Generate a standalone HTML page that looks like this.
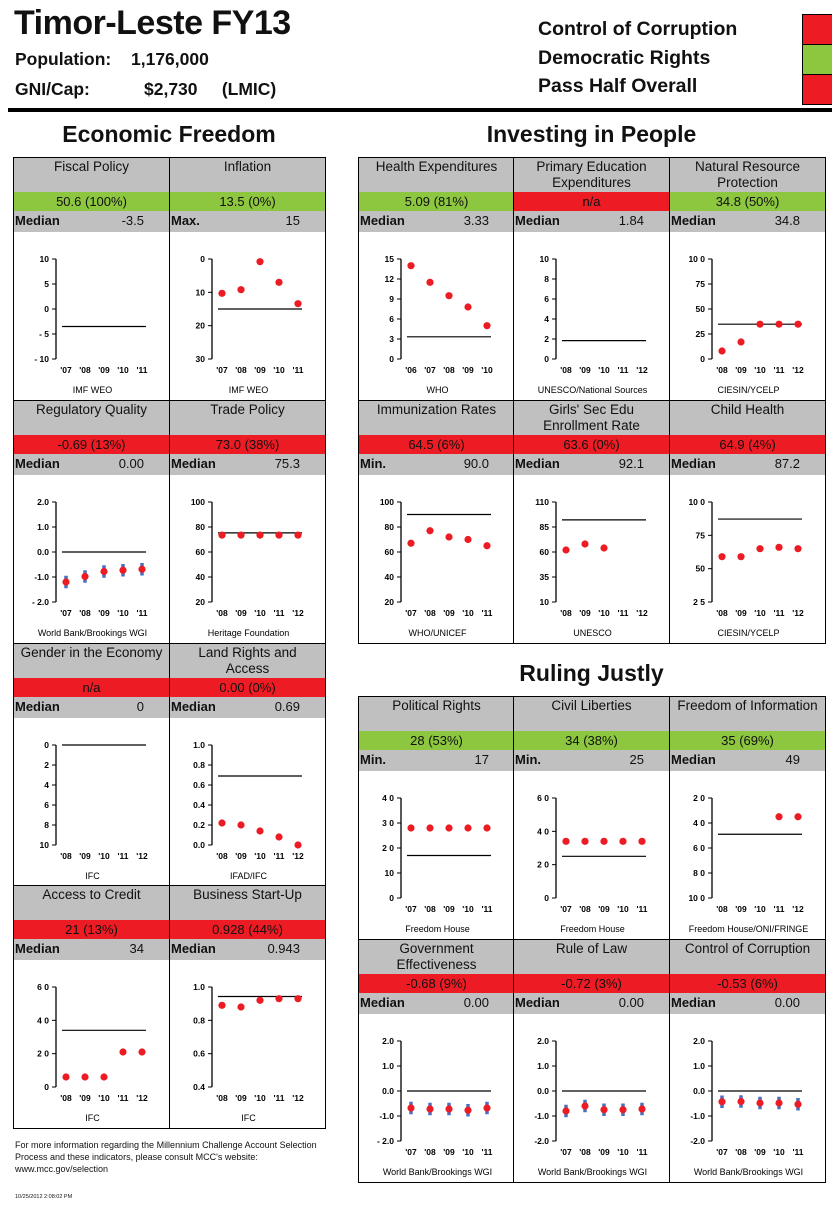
<!DOCTYPE html>
<html><head><meta charset="utf-8">
<style>
*{box-sizing:border-box;margin:0;padding:0}
body{width:832px;height:1209px;background:#fff;position:relative;overflow:hidden;font-family:"Liberation Sans",Arial,sans-serif;color:#111}
.a{position:absolute}
.panel{position:absolute;border:1.5px solid #000;background:#fff;overflow:hidden}
.hd{position:absolute;left:0;right:0;top:0;height:34px;background:#c0c0c0;text-align:center;font-size:13.5px;line-height:16px;padding:1px 10px 0 10px}
.sc{position:absolute;left:0;right:0;top:34px;height:19px;text-align:center;font-size:13px;line-height:19px}
.md{position:absolute;left:0;right:0;top:53px;height:21px;background:#c0c0c0;font-size:13px;font-weight:bold;line-height:20px}
.md span{position:absolute;right:25px;top:0;font-weight:normal}
.md b{position:absolute;left:1px;top:0}
.sec{font-size:23px;font-weight:bold;text-align:center}
svg text{font-family:"Liberation Sans",Arial,sans-serif}
</style></head><body>
<div class="a" style="left:14px;top:4px;font-size:34px;font-weight:bold;letter-spacing:-0.5px">Timor-Leste FY13</div>
<div class="a" style="left:15px;top:49px;font-size:17.5px;font-weight:bold">Population:</div>
<div class="a" style="left:131px;top:49px;font-size:17.5px;font-weight:bold">1,176,000</div>
<div class="a" style="left:15px;top:79px;font-size:17.5px;font-weight:bold">GNI/Cap:</div>
<div class="a" style="left:144px;top:79px;font-size:17.5px;font-weight:bold">$2,730&nbsp;&nbsp;&nbsp;&nbsp;&nbsp;(LMIC)</div>
<div class="a" style="left:538px;top:18px;font-size:19.5px;font-weight:bold">Control of Corruption</div>
<div class="a" style="left:538px;top:47px;font-size:19.5px;font-weight:bold">Democratic Rights</div>
<div class="a" style="left:538px;top:75px;font-size:19.5px;font-weight:bold">Pass Half Overall</div>
<div class="a" style="left:802px;top:14px;width:32px;height:31px;background:#ed1c24;border:1.5px solid #000"></div>
<div class="a" style="left:802px;top:44px;width:32px;height:31px;background:#8dc63f;border:1.5px solid #000"></div>
<div class="a" style="left:802px;top:74px;width:32px;height:31px;background:#ed1c24;border:1.5px solid #000"></div>
<div class="a" style="left:8px;top:108px;width:824px;height:4px;background:#000"></div>
<div class="a sec" style="left:13px;width:312px;top:121px">Economic Freedom</div>
<div class="a sec" style="left:358px;width:467px;top:121px">Investing in People</div>
<div class="a sec" style="left:358px;width:467px;top:660px">Ruling Justly</div>
<div class="a" style="left:15px;top:1139px;width:320px;font-size:9px;line-height:12px">For more information regarding the Millennium Challenge Account Selection Process and these indicators, please consult MCC's website: www.mcc.gov/selection</div>
<div class="a" style="left:15px;top:1194px;font-size:5.5px">10/25/2012 2:08:02 PM</div>
<div id="root"></div>
<script>
const Y0711=["'07","'08","'09","'10","'11"];
const Y0812=["'08","'09","'10","'11","'12"];
const Y0610=["'06","'07","'08","'09","'10"];
const fiscalValues=[null,null,null,null,null];
const inflationValues=[10.3,9.2,0.8,7.0,13.4];
const regQualityValues=[-1.2,-0.98,-0.78,-0.73,-0.69];
const tradeValues=[73.5,73.5,73.5,73.5,73.5];
const genderValues=[null,null,null,null,null];
const landValues=[0.22,0.20,0.14,0.08,0.0];
const creditValues=[6,6,6,21,21];
const businessValues=[0.89,0.88,0.92,0.93,0.93];
const healthValues=[14.0,11.5,9.5,7.8,5.0];
const primaryEduValues=[null,null,null,null,null];
const naturalValues=[8,17,34.8,34.8,34.8];
const immunValues=[67,77,72,70,65];
const girlsValues=[62,68,64,null,null];
const childValues=[59,59,65,66,65];
const polRightsValues=[28,28,28,28,28];
const civilValues=[34,34,34,34,34];
const foiValues=[null,null,null,35,35];
const govEffValues=[-0.68,-0.72,-0.72,-0.77,-0.68];
const ruleLawValues=[-0.8,-0.6,-0.75,-0.75,-0.72];
const corruptionValues=[-0.43,-0.42,-0.48,-0.48,-0.53];
const G="#8dc63f",R="#ed1c24";
const panels=[
 {n:"fiscal-policy",t:"Fiscal Policy",s:"50.6 (100%)",c:G,ml:"Median",mv:"-3.5",med:-3.5,ticks:[10,5,0,-5,-10],tl:["10","5","0","- 5","- 10"],yrs:Y0711,v:fiscalValues,src:"IMF WEO",x:13,y:157},
 {n:"inflation",t:"Inflation",s:"13.5 (0%)",c:G,ml:"Max.",mv:"15",med:15,ticks:[0,10,20,30],tl:["0","10","20","30"],inv:1,yrs:Y0711,v:inflationValues,src:"IMF WEO",x:169,y:157},
 {n:"regulatory-quality",t:"Regulatory Quality",s:"-0.69 (13%)",c:R,ml:"Median",mv:"0.00",med:0,ticks:[2,1,0,-1,-2],tl:["2.0","1.0","0.0","-1.0","- 2.0"],err:1,yrs:Y0711,v:regQualityValues,src:"World Bank/Brookings WGI",x:13,y:400},
 {n:"trade-policy",t:"Trade Policy",s:"73.0 (38%)",c:R,ml:"Median",mv:"75.3",med:75.3,ticks:[100,80,60,40,20],tl:["100","80","60","40","20"],yrs:Y0812,v:tradeValues,src:"Heritage Foundation",x:169,y:400},
 {n:"gender-economy",t:"Gender in the Economy",s:"n/a",c:R,ml:"Median",mv:"0",med:0,ticks:[0,2,4,6,8,10],tl:["0","2","4","6","8","10"],inv:1,yrs:Y0812,v:genderValues,src:"IFC",x:13,y:643,pad:2},
 {n:"land-rights",t:"Land Rights and Access",s:"0.00 (0%)",c:R,ml:"Median",mv:"0.69",med:0.69,ticks:[1,0.8,0.6,0.4,0.2,0],tl:["1.0","0.8","0.6","0.4","0.2","0.0"],yrs:Y0812,v:landValues,src:"IFAD/IFC",x:169,y:643,pad:18},
 {n:"access-credit",t:"Access to Credit",s:"21 (13%)",c:R,ml:"Median",mv:"34",med:34,ticks:[60,40,20,0],tl:["6 0","4 0","2 0","0"],yrs:Y0812,v:creditValues,src:"IFC",x:13,y:885},
 {n:"business-startup",t:"Business Start-Up",s:"0.928 (44%)",c:R,ml:"Median",mv:"0.943",med:0.943,ticks:[1,0.8,0.6,0.4],tl:["1.0","0.8","0.6","0.4"],yrs:Y0812,v:businessValues,src:"IFC",x:169,y:885},
 {n:"health-expenditures",t:"Health Expenditures",s:"5.09 (81%)",c:G,ml:"Median",mv:"3.33",med:3.33,ticks:[15,12,9,6,3,0],tl:["15","12","9","6","3","0"],yrs:Y0610,v:healthValues,src:"WHO",x:358,y:157,pad:2},
 {n:"primary-education",t:"Primary Education Expenditures",s:"n/a",c:R,ml:"Median",mv:"1.84",med:1.84,ticks:[10,8,6,4,2,0],tl:["10","8","6","4","2","0"],yrs:Y0812,v:primaryEduValues,src:"UNESCO/National Sources",x:513,y:157},
 {n:"natural-resource",t:"Natural Resource Protection",s:"34.8 (50%)",c:G,ml:"Median",mv:"34.8",med:34.8,ticks:[100,75,50,25,0],tl:["10 0","75","50","25","0"],yrs:Y0812,v:naturalValues,src:"CIESIN/YCELP",x:669,y:157},
 {n:"immunization",t:"Immunization Rates",s:"64.5 (6%)",c:R,ml:"Min.",mv:"90.0",med:90,ticks:[100,80,60,40,20],tl:["100","80","60","40","20"],yrs:Y0711,v:immunValues,src:"WHO/UNICEF",x:358,y:400},
 {n:"girls-education",t:"Girls' Sec Edu Enrollment Rate",s:"63.6 (0%)",c:R,ml:"Median",mv:"92.1",med:92.1,ticks:[110,85,60,35,10],tl:["110","85","60","35","10"],yrs:Y0812,v:girlsValues,src:"UNESCO",x:513,y:400,pad:18},
 {n:"child-health",t:"Child Health",s:"64.9 (4%)",c:R,ml:"Median",mv:"87.2",med:87.2,ticks:[100,75,50,25],tl:["10 0","75","50","2 5"],yrs:Y0812,v:childValues,src:"CIESIN/YCELP",x:669,y:400},
 {n:"political-rights",t:"Political Rights",s:"28 (53%)",c:G,ml:"Min.",mv:"17",med:17,ticks:[40,30,20,10,0],tl:["4 0","3 0","2 0","10","0"],yrs:Y0711,v:polRightsValues,src:"Freedom House",x:358,y:696},
 {n:"civil-liberties",t:"Civil Liberties",s:"34 (38%)",c:G,ml:"Min.",mv:"25",med:25,ticks:[60,40,20,0],tl:["6 0","4 0","2 0","0"],yrs:Y0711,v:civilValues,src:"Freedom House",x:513,y:696},
 {n:"freedom-information",t:"Freedom of Information",s:"35 (69%)",c:G,ml:"Median",mv:"49",med:49,ticks:[20,40,60,80,100],tl:["2 0","4 0","6 0","8 0","10 0"],inv:1,yrs:Y0812,v:foiValues,src:"Freedom House/ONI/FRINGE",x:669,y:696,pad:2},
 {n:"government-effectiveness",t:"Government Effectiveness",s:"-0.68 (9%)",c:R,ml:"Median",mv:"0.00",med:0,ticks:[2,1,0,-1,-2],tl:["2.0","1.0","0.0","-1.0","- 2.0"],err:1,yrs:Y0711,v:govEffValues,src:"World Bank/Brookings WGI",x:358,y:939},
 {n:"rule-of-law",t:"Rule of Law",s:"-0.72 (3%)",c:R,ml:"Median",mv:"0.00",med:0,ticks:[2,1,0,-1,-2],tl:["2.0","1.0","0.0","-1.0","-2.0"],err:1,yrs:Y0711,v:ruleLawValues,src:"World Bank/Brookings WGI",x:513,y:939},
 {n:"control-of-corruption",t:"Control of Corruption",s:"-0.53 (6%)",c:R,ml:"Median",mv:"0.00",med:0,ticks:[2,1,0,-1,-2],tl:["2.0","1.0","0.0","-1.0","-2.0"],err:1,yrs:Y0711,v:corruptionValues,src:"World Bank/Brookings WGI",x:669,y:939,pad:2}
];
const NS="http://www.w3.org/2000/svg";
function mk(tag,attrs,parent){const e=document.createElementNS(NS,tag);for(const k in attrs)e.setAttribute(k,attrs[k]);parent.appendChild(e);return e;}
const root=document.getElementById('root');
panels.forEach(p=>{
 const w=157, h=(p.y===643?243:244);
 const d=document.createElement('div');d.className='panel';
 d.style.left=p.x+'px';d.style.top=p.y+'px';d.style.width=w+'px';d.style.height=h+'px';
 
 
 const pad=(p.pad!==undefined?p.pad:10);
 d.innerHTML='<div class="hd" style="padding-left:'+pad+'px;padding-right:'+pad+'px">'+p.t+'</div>'+
 '<div class="sc" style="background:'+p.c+'">'+p.s+'</div>'+
 '<div class="md"><b>'+p.ml+'</b><span>'+p.mv+'</span></div>';
 const svg=mk('svg',{width:w,height:h,style:'position:absolute;left:0;top:0'},d);
 
 
 const ax=42,top=101,bot=201,x0=52,dx=19;
 const lo=Math.min(...p.ticks),hi=Math.max(...p.ticks);
 const sy=v=>p.inv?top+(v-lo)/(hi-lo)*(bot-top):bot-(v-lo)/(hi-lo)*(bot-top);
 const sx=i=>x0+i*dx;
 const axis=mk('line',{x1:ax,x2:ax,y1:top,y2:bot,stroke:'#000','stroke-width':1.3},svg);
 
 p.ticks.forEach((t,i)=>{
  mk('line',{x1:ax-4,x2:ax,y1:sy(t),y2:sy(t),stroke:'#000','stroke-width':1},svg);
  const tx=mk('text',{x:ax-7,y:sy(t)+3,'text-anchor':'end','font-size':8.5,'font-weight':'bold'},svg);
  tx.textContent=p.tl[i];
  
 });
 p.yrs.forEach((yl,i)=>{
  const tx=mk('text',{x:sx(i),y:215,'text-anchor':'middle','font-size':8.5,'font-weight':'bold'},svg);
  tx.textContent=yl;
  
 });
 const ml=mk('line',{x1:sx(0)-4,x2:sx(4)+4,y1:sy(p.med),y2:sy(p.med),stroke:'#000','stroke-width':1.2},svg);
 
 p.v.forEach((v,i)=>{
  if(v===null)return;
  if(p.err){const b=mk('line',{x1:sx(i),x2:sx(i),y1:sy(v+0.25),y2:sy(v-0.25),stroke:'#4a6fc0','stroke-width':3.5},svg);
   }
  const c=mk('circle',{cx:sx(i),cy:sy(v),r:3.6,fill:'#ed1c24'},svg);
  
 });
 const s=mk('text',{x:w/2,y:235,'text-anchor':'middle','font-size':9},svg);
 s.textContent=p.src;
 
 root.appendChild(d);
});
</script>
</body></html>
